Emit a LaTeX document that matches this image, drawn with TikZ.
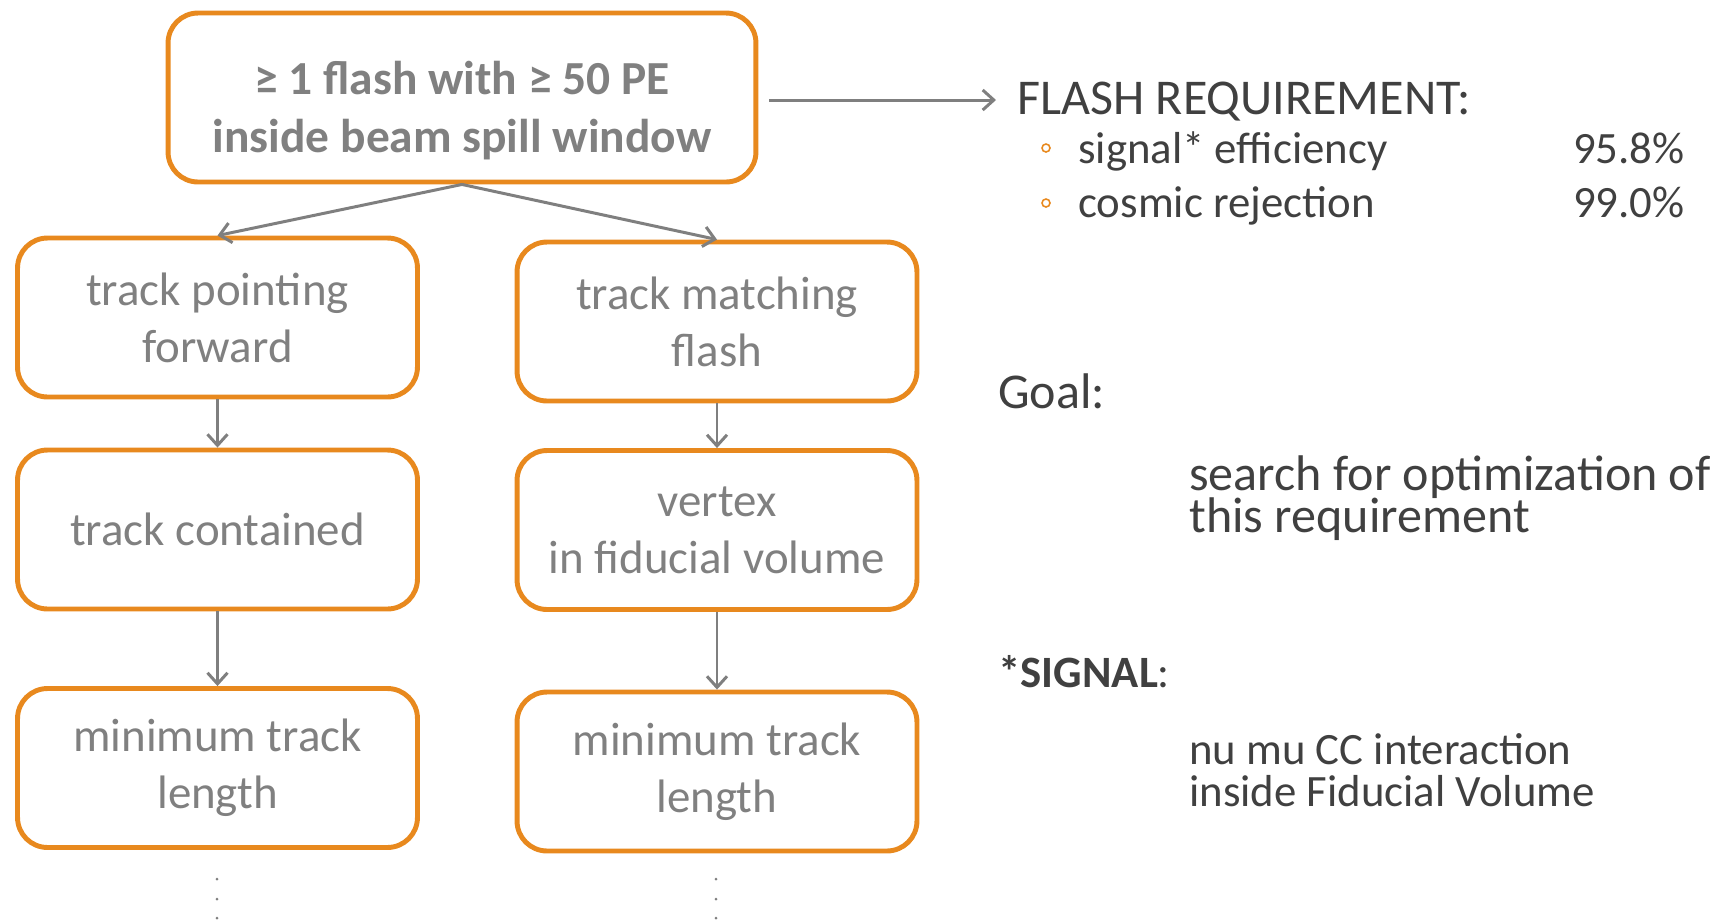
\documentclass[tikz,border=0pt]{standalone}
\usepackage{fontspec}
\setmainfont{Carlito}
\usetikzlibrary{arrows.meta}
\definecolor{boxorange}{HTML}{E8891E}
\definecolor{txtgray}{HTML}{808080}
\definecolor{darktxt}{HTML}{404040}
\definecolor{arrgray}{HTML}{7F7F7F}
\begin{document}
\begin{tikzpicture}[x=0.02cm,y=-0.02cm,
 box/.style={draw=boxorange, line width=2.8pt, rounded corners=0.6cm, fill=white,
   minimum width=8cm, minimum height=3.18cm, align=center, text=txtgray,
   font=\fontsize{26.7}{32.4}\selectfont, inner sep=0pt},
 topbox/.style={box, minimum width=11.76cm, minimum height=3.38cm},
 toptext/.style={align=center, text=txtgray, inner sep=0pt,
   font=\fontsize{27}{33}\selectfont\bfseries},
 arr/.style={draw=arrgray, line width=1.7pt, -{Straight Barb[length=6.3pt,width=11.4pt]}},
 rtxt/.style={anchor=base west, inner sep=0pt, text=darktxt},
 big/.style={font=\fontsize{28.5}{34}\selectfont},
 small/.style={font=\fontsize{25.5}{30}\selectfont},
 bul/.style={circle, draw=boxorange, line width=0.9pt, minimum size=0.16cm, inner sep=0pt},
 dot/.style={circle, fill=arrgray, minimum size=0.06cm, inner sep=0pt}
]
\useasboundingbox (0,0) rectangle (1729,921);

\node[topbox] (top) at (462,97.5) {};
\node[toptext] (toptxt) at (462,111) {≥ 1 flash with ≥ 50 PE\\inside beam spill window};

\node[box] (L1) at (217.5,317.5) {track pointing\\forward};
\node[box] (L2) at (217.5,529.5) {track contained};
\node[box] (L3) at (217.5,768) {minimum track\\length};

\node[box] (R1) at (717,321.5) {track matching\\flash};
\node[box] (R2) at (717,530) {vertex\\in fiducial volume};
\node[box] (R3) at (717,771.5) {minimum track\\length};

\draw[arr] (top.south) -- (L1.north);
\draw[arr] (top.south) -- (R1.north);
\draw[arr] (L1.south) -- (L2.north);
\draw[arr] (L2.south) -- (L3.north);
\draw[arr] (R1.south) -- (R2.north);
\draw[arr] (R2.south) -- (R3.north);

\coordinate (fr) at (996,100);
\draw[arr] ([xshift=0.22cm]top.east |- fr) -- (fr);

\node[rtxt, big] (flash) at (1017,114) {FLASH REQUIREMENT:};
\node[bul] (b1) at (1046,148) {};
\node[bul] (b2) at (1046,203) {};
\node[rtxt, small] (eff) at (1078,163) {signal* efficiency};
\node[rtxt, small] (rej) at (1078,217) {cosmic rejection};
\node[rtxt, small, anchor=base east] (p1) at (1685,163) {95.8\%};
\node[rtxt, small, anchor=base east] (p2) at (1685,217) {99.0\%};

\node[rtxt, big] (goal) at (998,408) {Goal:};
\node[rtxt, big] (g1) at (1189,490) {search for optimization of};
\node[rtxt, big] (g2) at (1189,532) {this requirement};

\node[rtxt, small] (sig) at (998,687) {\textbf{*SIGNAL}:};
\node[rtxt, small] (s1) at (1189,764) {nu mu CC interaction};
\node[rtxt, small] (s2) at (1189,806) {inside Fiducial Volume};

\node[dot] (dl1) at (217,879) {};
\node[dot] (dl2) at (217,899) {};
\node[dot] (dl3) at (217,918) {};
\node[dot] (dr1) at (716,879) {};
\node[dot] (dr2) at (716,899) {};
\node[dot] (dr3) at (716,918) {};
\end{tikzpicture}
\end{document}
